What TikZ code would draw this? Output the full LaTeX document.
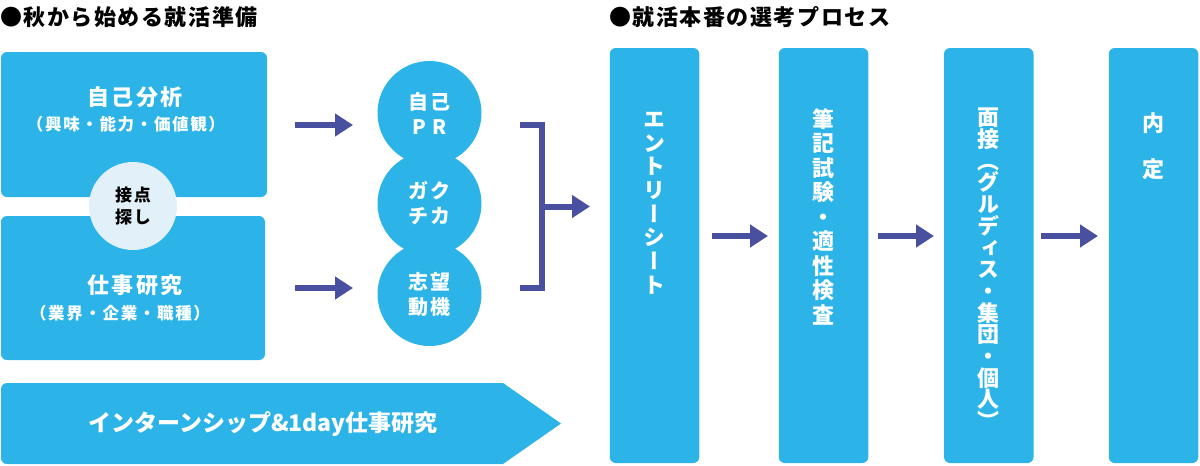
\documentclass[tikz,border=0pt]{standalone}
\usepackage{fontspec}
\setmainfont{Noto Sans CJK JP}
\newfontfamily\vjp{Noto Sans CJK JP}[RawFeature=+vert]
\usetikzlibrary{arrows.meta}
\definecolor{boxblue}{RGB}{44,180,232}
\definecolor{arrowblue}{RGB}{74,80,160}
\definecolor{paleblue}{RGB}{226,240,250}
\newcommand\ttlfont{\bfseries\fontsize{22}{26}\selectfont\addfontfeature{LetterSpace=7}}
\newcommand\bigfont{\bfseries\fontsize{22}{24}\selectfont\addfontfeature{LetterSpace=12}}
\newcommand\subfont{\bfseries\fontsize{16.5}{20}\selectfont\addfontfeature{LetterSpace=10}}
\newcommand\cirfont{\bfseries\fontsize{20}{25}\selectfont\addfontfeature{LetterSpace=12}}
\newcommand\tenfont{\bfseries\fontsize{17}{22}\selectfont\addfontfeature{LetterSpace=10}}
\begin{document}
\begin{tikzpicture}[x=1pt,y=-1pt,
  bluebox/.style={fill=boxblue, rounded corners=6pt, inner sep=0pt, draw=none},
  flow/.style={draw=arrowblue, line width=6pt, -{Triangle[length=18pt,width=22pt]}},
  wtxt/.style={text=white, inner sep=0pt, align=center},
  bcirc/.style={circle, fill=boxblue, minimum size=104pt, inner sep=0pt, text=white, align=center, font=\cirfont},
  tall/.style={bluebox, minimum width=89.5pt, minimum height=415pt},
  vtxt/.style={wtxt, anchor=north}
  ]
\useasboundingbox (0,0) rectangle (1200,466);

% titles
\node[anchor=west, inner sep=0pt, font=\ttlfont] (t1) at (0,17) {●秋から始める就活準備};
\node[anchor=west, inner sep=0pt, font=\ttlfont] (t2) at (609,17) {●就活本番の選考プロセス};

% left boxes
\node[bluebox, minimum width=266pt, minimum height=145pt] (jiko) at (134,124.5) {};
\node[bluebox, minimum width=264pt, minimum height=144pt] (shigoto) at (133,288) {};
\node[wtxt, font=\bigfont] (jikot) at (135,97) {自己分析};
\node[wtxt, font=\subfont] (jikos) at (126,124) {（興味・能力・価値観）};
\node[wtxt, font=\bigfont] (shigotot) at (135,285) {仕事研究};
\node[wtxt, font=\subfont] (shigotos) at (120,313) {（業界・企業・職種）};
\node[circle, fill=paleblue, minimum size=88pt, inner sep=0pt, align=center, font=\tenfont] (setten) at (133,206) {接点\\探し};

% circles
\node[bcirc] (pr) at (429.5,113) {自己\\P\hspace{7pt}R};
\node[bcirc] (gaku) at (429.5,203.5) {ガク\\チカ};
\node[bcirc] (shibou) at (429.5,294) {志望\\動機};

% left arrows
\coordinate (la1s) at (295,125); \coordinate (la1e) at (353,125);
\coordinate (la2s) at (295,288); \coordinate (la2e) at (353,288);
\draw[flow] (la1s) -- (la1e);
\draw[flow] (la2s) -- (la2e);

% bracket
\coordinate (bt) at (520,125); \coordinate (bb) at (520,288);
\coordinate (bm) at (542,206.5); \coordinate (be) at (590,206.5);
\draw[draw=arrowblue, line width=6pt] (bt) -- (542,125) -- (542,288) -- (bb);
\draw[flow] (bm) -- (be);

% bottom banner
\fill[boxblue] (503,464) -- (561,423.5) -- (503,383) {[rounded corners=6pt] -- (1,383) -- (1,464)} -- cycle;
\node[wtxt, font=\bfseries\fontsize{23}{26}\selectfont] (intern) at (263,424) {インターンシップ\&1day仕事研究};

% right process boxes
\node[tall] (es) at (654.5,255.5) {};
\node[tall] (hikki) at (823.5,255.5) {};
\node[tall] (mensetsu) at (988.75,255.5) {};
\node[tall] (naitei) at (1153.5,255.5) {};

\node[vtxt, font={\vjp\bfseries\fontsize{22}{23.7}\selectfont}] (est) at (654.5,112) {エ\\ン\\ト\\リ\\ー\\シ\\ー\\ト};
\node[vtxt, font={\vjp\bfseries\fontsize{22}{24.5}\selectfont}] (hikkit) at (823.5,108) {筆\\記\\試\\験\\・\\適\\性\\検\\査};
\node[vtxt, font={\vjp\bfseries\fontsize{22}{21.7}\selectfont}] (mensetsut) at (988.75,108) {面\\接\\（\\グ\\ル\\デ\\ィ\\ス\\・\\集\\団\\・\\個\\人\\）};
\node[vtxt, font={\vjp\bfseries\fontsize{22}{46}\selectfont}] (naiteit) at (1153.5,112) {内\\定};

% right arrows
\coordinate (ra1s) at (712,236); \coordinate (ra1e) at (768,236);
\coordinate (ra2s) at (878,236); \coordinate (ra2e) at (934,236);
\coordinate (ra3s) at (1041,236); \coordinate (ra3e) at (1098,236);
\draw[flow] (ra1s) -- (ra1e);
\draw[flow] (ra2s) -- (ra2e);
\draw[flow] (ra3s) -- (ra3e);
\end{tikzpicture}
\end{document}
